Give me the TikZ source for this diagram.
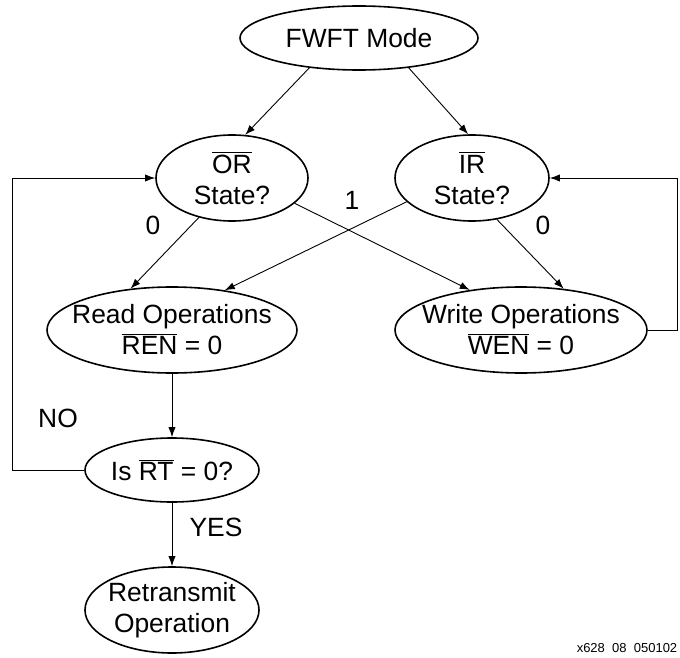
\documentclass[tikz,border=0pt]{standalone}
\usepackage{fontspec}
\setmainfont{Liberation Sans}
\usetikzlibrary{shapes.geometric,arrows.meta}
\newcommand{\ovl}[1]{$\overline{\hbox{#1}}$}
\begin{document}
\begin{tikzpicture}[x=0.5pt,y=-0.5pt,
  txt/.style={font=\fontsize{13.2}{15.5}\selectfont,inner sep=0pt,align=center},
  stateel/.style={ellipse,draw,line width=0.8pt,inner sep=0pt,
    label={[txt]center:#1}},
  conn/.style={-{Latex[length=5pt,width=3.6pt]},line width=0.45pt},
  smalllbl/.style={font=\fontsize{6.5}{8}\selectfont,inner sep=0pt}]
\useasboundingbox (0,0) rectangle (680,658);
\node[stateel={FWFT Mode},minimum width=119pt,minimum height=32pt] (fwft) at (359,38) {};
\node[stateel={\ovl{OR}\\State?},minimum width=76pt,minimum height=43pt] (or) at (232,178) {};
\node[stateel={\ovl{IR}\\State?},minimum width=77pt,minimum height=43pt] (ir) at (472,178) {};
\node[stateel={Read Operations\\\ovl{REN} = 0},minimum width=125pt,minimum height=43pt] (read) at (172,330) {};
\node[stateel={Write Operations\\\ovl{WEN} = 0},minimum width=126pt,minimum height=43pt] (write) at (521,330) {};
\node[stateel={Is \ovl{RT} = 0?},minimum width=87pt,minimum height=32pt] (isrt) at (172,470) {};
\node[stateel={Retransmit\\Operation},minimum width=87pt,minimum height=43pt] (retx) at (172,610) {};

\draw[conn] (fwft.211) -- (or.73);
\draw[conn] (fwft.329) -- (ir.95);
\draw[conn] (or.230) -- (read.135);
\draw[conn] (ir.200) -- (read.37);
\draw[conn] (or.338) -- (write.142);
\draw[conn] (ir.301) -- (write.44);
\draw[conn] (read.south) -- (isrt.north);
\draw[conn] (isrt.south) -- (retx.north);
\draw[conn] (isrt.west) -- ++(-72,0) |- (or.west);
\draw[conn] (write.east) -- ++(30,0) |- (ir.east);

\node[txt] (l0a) at (153,225) {0};
\node[txt] (l1) at (352,200) {1};
\node[txt] (l0b) at (543,225) {0};
\node[txt] (lno) at (58,418) {NO};
\node[txt] (lyes) at (216,527) {YES};
\node[smalllbl] (fig) at (627,648) {x628\ \ 08\ \ 050102};
\end{tikzpicture}
\end{document}
